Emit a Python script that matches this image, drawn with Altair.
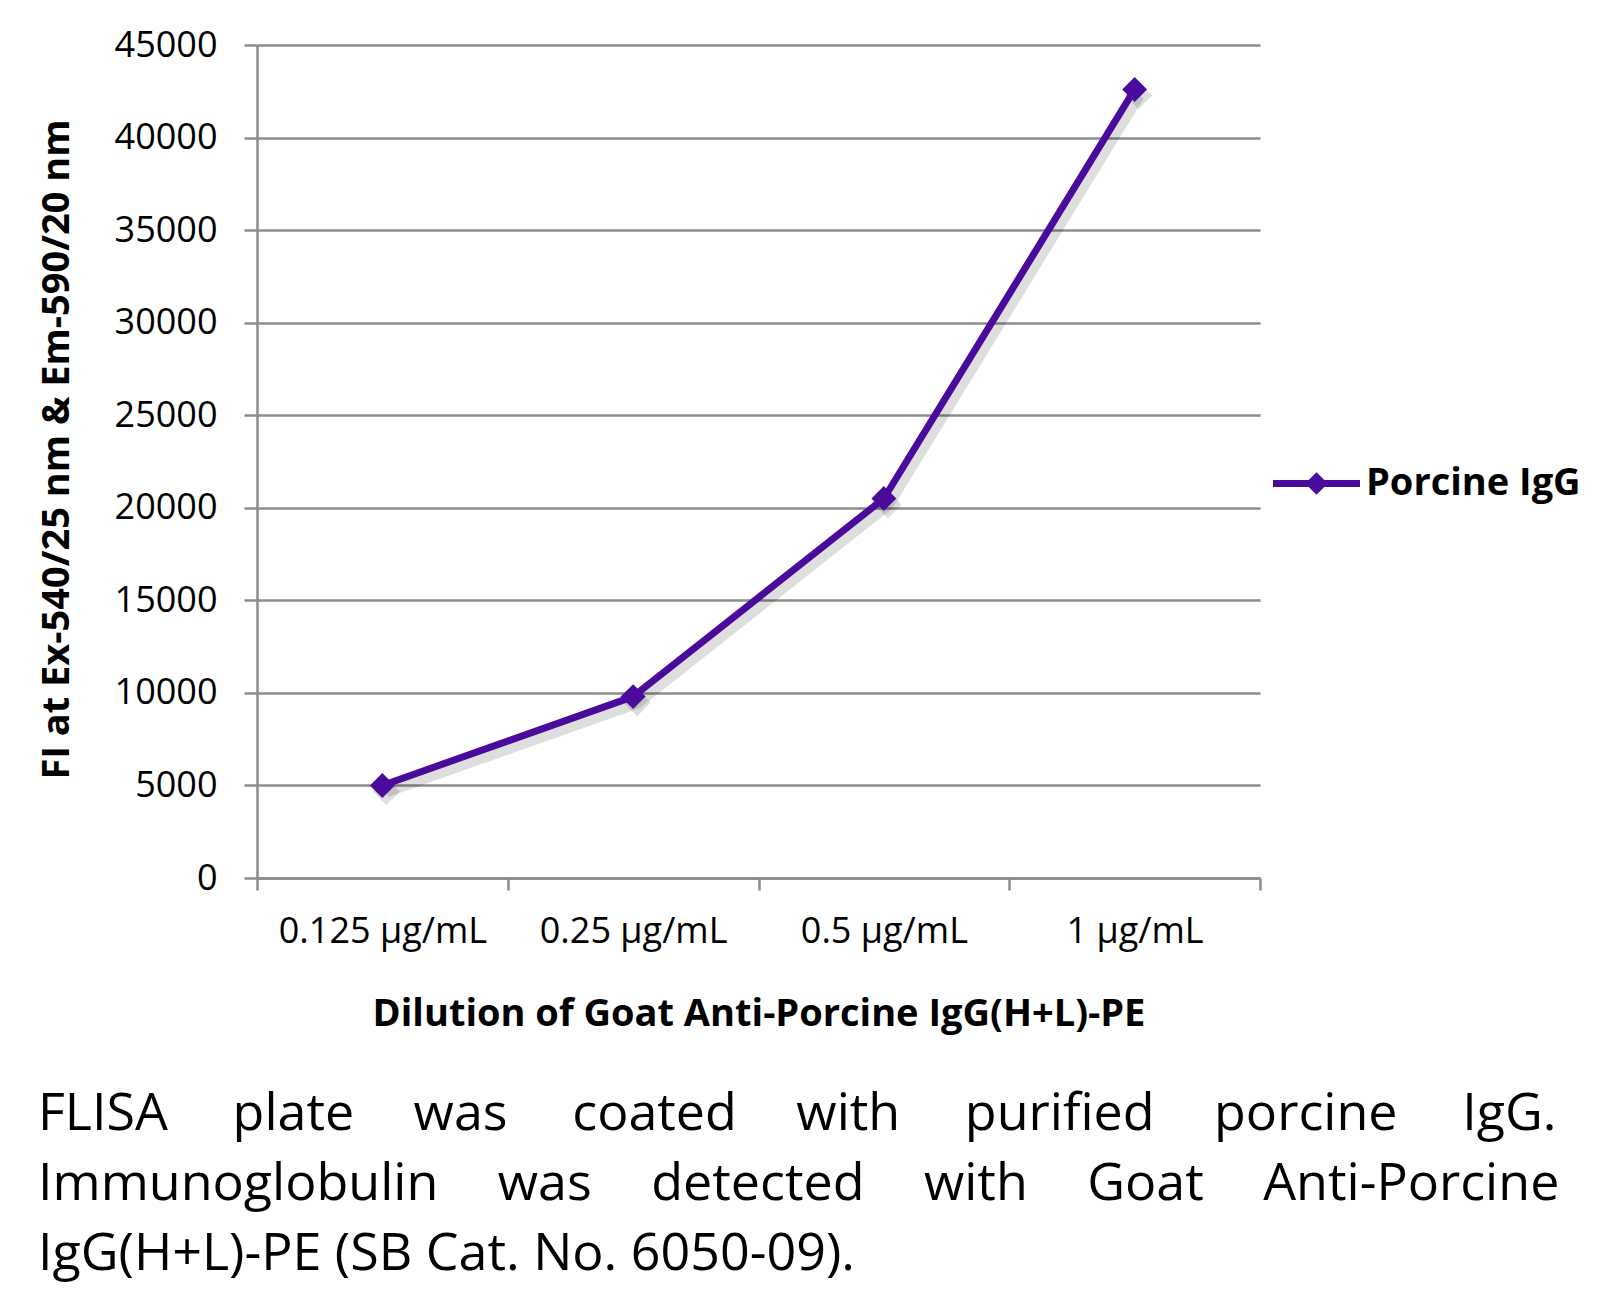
import altair as alt
import pandas as pd

# ---- data ----
categories = ["0.125 µg/mL", "0.25 µg/mL", "0.5 µg/mL", "1 µg/mL"]
values = [5000, 9800, 20500, 42600]
series_name = "Porcine IgG"
y_ticks = [0, 5000, 10000, 15000, 20000, 25000, 30000, 35000, 40000, 45000]
caption_words_1 = ["FLISA", "plate", "was", "coated", "with", "purified", "porcine", "IgG."]
caption_words_2 = ["Immunoglobulin", "was", "detected", "with", "Goat", "Anti-Porcine"]
caption_line_3 = "IgG(H+L)-PE (SB Cat. No. 6050-09)."
x_title = "Dilution of Goat Anti-Porcine IgG(H+L)-PE"
y_title = "FI at Ex-540/25 nm & Em-590/20 nm"

df = pd.DataFrame({"dilution": categories, "fi": values, "series": [series_name] * len(values)})

PURPLE = "#4A0B9C"
GRID = "#8C8C8C"
FONT = "Open Sans"
GAP_A = "\u2007\u2007\u200a"
GAP_B = "\u2007\u2007"


def justify(words, gaps):
    out = words[0]
    for i, w in enumerate(words[1:]):
        out += gaps[i % len(gaps)] + w
    return out


caption = [
    justify(caption_words_1, [GAP_A, GAP_B]),
    justify(caption_words_2, [GAP_B]),
    caption_line_3,
]

x = alt.X(
    "dilution:N",
    sort=categories,
    scale=alt.Scale(type="band", paddingInner=0, paddingOuter=0),
    axis=alt.Axis(
        title=x_title,
        tickBand="extent",
        labelAngle=0,
        grid=False,
        tickSize=12,
        labelPadding=41,
        labelBaseline="middle",
        labelLimit=0,
        labelFont=FONT,
        labelFontSize=36,
        labelColor="black",
        titleFont=FONT,
        titleFontSize=38,
        titleFontWeight="bold",
        titleColor="black",
        titleY=136,
        titleBaseline="middle",
        titleLimit=0,
    ),
)
y = alt.Y(
    "fi:Q",
    scale=alt.Scale(domain=[0, 45000], nice=False),
    axis=alt.Axis(
        title=y_title,
        values=y_ticks,
        format="d",
        grid=True,
        tickSize=13,
        labelPadding=27,
        labelFont=FONT,
        labelFontSize=36,
        labelColor="black",
        titleFont=FONT,
        titleFontSize=38,
        titleFontWeight="bold",
        titleColor="black",
        titleX=-200,
        titleY=404,
        titleBaseline="middle",
        titleAlign="center",
        titleLimit=0,
    ),
)

base = alt.Chart(df).encode(x=x, y=y)

shadow_line = base.mark_line(color="#000000", opacity=0.13, strokeWidth=12, xOffset=4, yOffset=6)
shadow_pts = base.mark_point(shape="diamond", filled=True, size=750, color="#000000", opacity=0.13,
                             xOffset=4, yOffset=6)
line = base.mark_line(color=PURPLE, strokeWidth=7, strokeJoin="round", strokeCap="round")

legend_path = ("M-1,-0.08 L1,-0.08 L1,0.08 L-1,0.08 Z "
               "M0,-0.26 L0.26,0 L0,0.26 L-0.26,0 Z")

points = base.mark_point(shape="diamond", filled=True, size=620, opacity=1).encode(
    color=alt.Color(
        "series:N",
        scale=alt.Scale(range=[PURPLE]),
        legend=alt.Legend(
            title=None,
            orient="none",
            legendX=1016,
            legendY=395,
            padding=0,
            symbolType=legend_path,
            symbolSize=7569,
            symbolStrokeWidth=0,
            symbolOpacity=1,
            labelFont=FONT,
            labelFontSize=38,
            labelFontWeight="bold",
            labelColor="black",
            labelOffset=6,
            labelLimit=0,
        ),
    )
)

chart = (
    alt.layer(shadow_line, shadow_pts, line, points)
    .properties(
        width=1003,
        height=833,
        autosize=alt.AutoSizeParams(type="none"),
        padding={"left": 249, "top": 37, "right": 321, "bottom": 420},
        title=alt.TitleParams(
            text=caption,
            orient="bottom",
            anchor="start",
            frame="bounds",
            font=FONT,
            fontSize=52,
            fontWeight="normal",
            lineHeight=70,
            offset=56,
            color="black",
        ),
    )
    .configure_view(stroke=None)
    .configure_axis(
        domainColor=GRID,
        domainWidth=2.5,
        tickColor=GRID,
        tickWidth=2.5,
        gridColor=GRID,
        gridWidth=2.5,
    )
)

chart.save("out.html", embed_options={"renderer": "svg", "actions": False})
